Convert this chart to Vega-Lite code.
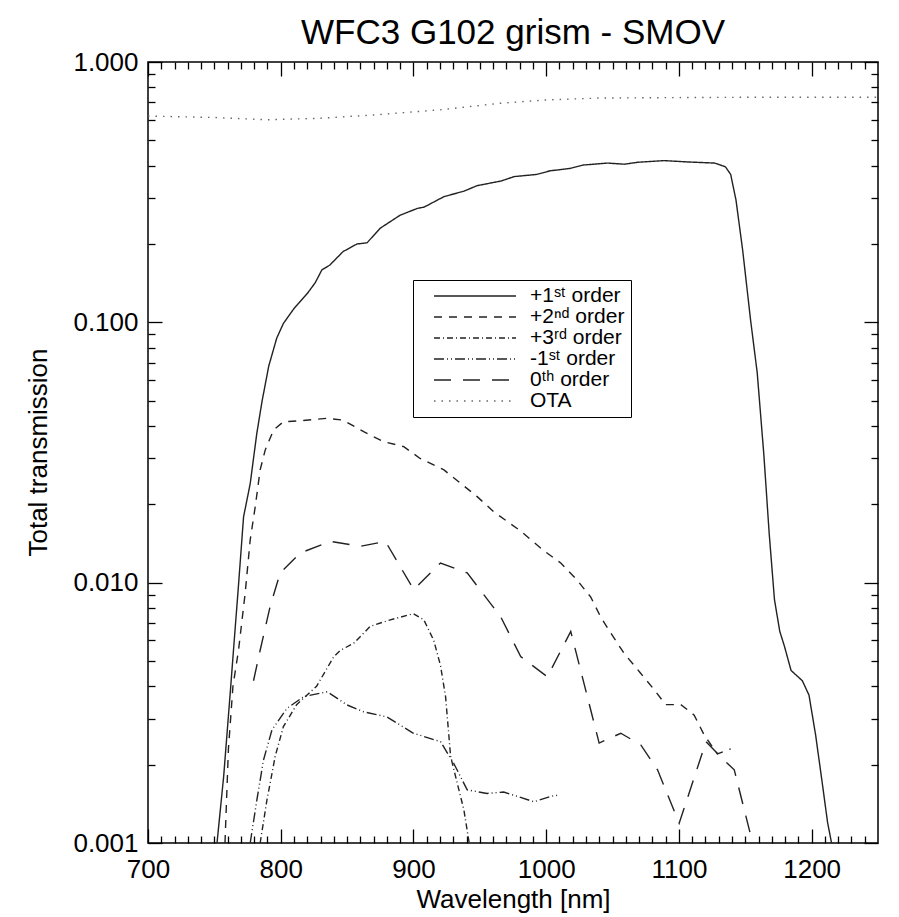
{
  "$schema": "https://vega.github.io/schema/vega-lite/v6.json",
  "autosize": {"type": "none"},
  "padding": {"left": 148, "top": 62, "right": 21, "bottom": 74},
  "width": 730,
  "height": 781,
  "background": "white",
  "title": {"text": "WFC3 G102 grism - SMOV", "fontSize": 35, "font": "Liberation Sans", "fontWeight": "normal", "color": "black", "offset": -2},
  "config": {
    "view": {"stroke": "black", "strokeWidth": 1.5},
    "axis": {"grid": false, "domain": false, "tickColor": "black", "tickWidth": 1.3, "labelFont": "Liberation Sans", "labelFontSize": 26, "labelColor": "black", "titleFont": "Liberation Sans", "titleFontSize": 26, "titleColor": "black", "titleFontWeight": "normal", "labelFlush": false, "labelOverlap": false, "labelBound": false}
  },
  "data": {"values": [
    {"s": "+1\u02e2\u1d57 order", "wl": 752, "t": 0.001},
    {"s": "+1\u02e2\u1d57 order", "wl": 757, "t": 0.0018},
    {"s": "+1\u02e2\u1d57 order", "wl": 762, "t": 0.0038},
    {"s": "+1\u02e2\u1d57 order", "wl": 764.4, "t": 0.0055},
    {"s": "+1\u02e2\u1d57 order", "wl": 768, "t": 0.0095},
    {"s": "+1\u02e2\u1d57 order", "wl": 772, "t": 0.0179},
    {"s": "+1\u02e2\u1d57 order", "wl": 777, "t": 0.024},
    {"s": "+1\u02e2\u1d57 order", "wl": 782, "t": 0.0375},
    {"s": "+1\u02e2\u1d57 order", "wl": 786, "t": 0.05},
    {"s": "+1\u02e2\u1d57 order", "wl": 791, "t": 0.068},
    {"s": "+1\u02e2\u1d57 order", "wl": 797, "t": 0.087},
    {"s": "+1\u02e2\u1d57 order", "wl": 802, "t": 0.099},
    {"s": "+1\u02e2\u1d57 order", "wl": 810, "t": 0.113},
    {"s": "+1\u02e2\u1d57 order", "wl": 820, "t": 0.129},
    {"s": "+1\u02e2\u1d57 order", "wl": 826, "t": 0.142},
    {"s": "+1\u02e2\u1d57 order", "wl": 831, "t": 0.159},
    {"s": "+1\u02e2\u1d57 order", "wl": 837, "t": 0.166},
    {"s": "+1\u02e2\u1d57 order", "wl": 847, "t": 0.187},
    {"s": "+1\u02e2\u1d57 order", "wl": 857.5, "t": 0.2},
    {"s": "+1\u02e2\u1d57 order", "wl": 865, "t": 0.202},
    {"s": "+1\u02e2\u1d57 order", "wl": 875, "t": 0.23},
    {"s": "+1\u02e2\u1d57 order", "wl": 890, "t": 0.258},
    {"s": "+1\u02e2\u1d57 order", "wl": 903, "t": 0.274},
    {"s": "+1\u02e2\u1d57 order", "wl": 908, "t": 0.277},
    {"s": "+1\u02e2\u1d57 order", "wl": 923, "t": 0.304},
    {"s": "+1\u02e2\u1d57 order", "wl": 938, "t": 0.319},
    {"s": "+1\u02e2\u1d57 order", "wl": 948, "t": 0.335},
    {"s": "+1\u02e2\u1d57 order", "wl": 966, "t": 0.349},
    {"s": "+1\u02e2\u1d57 order", "wl": 976, "t": 0.363},
    {"s": "+1\u02e2\u1d57 order", "wl": 993, "t": 0.37},
    {"s": "+1\u02e2\u1d57 order", "wl": 1003, "t": 0.382},
    {"s": "+1\u02e2\u1d57 order", "wl": 1018, "t": 0.39},
    {"s": "+1\u02e2\u1d57 order", "wl": 1028, "t": 0.402},
    {"s": "+1\u02e2\u1d57 order", "wl": 1046, "t": 0.409},
    {"s": "+1\u02e2\u1d57 order", "wl": 1059, "t": 0.405},
    {"s": "+1\u02e2\u1d57 order", "wl": 1069, "t": 0.412},
    {"s": "+1\u02e2\u1d57 order", "wl": 1089, "t": 0.418},
    {"s": "+1\u02e2\u1d57 order", "wl": 1107, "t": 0.413},
    {"s": "+1\u02e2\u1d57 order", "wl": 1127, "t": 0.409},
    {"s": "+1\u02e2\u1d57 order", "wl": 1135, "t": 0.396},
    {"s": "+1\u02e2\u1d57 order", "wl": 1139, "t": 0.37},
    {"s": "+1\u02e2\u1d57 order", "wl": 1143, "t": 0.295},
    {"s": "+1\u02e2\u1d57 order", "wl": 1148, "t": 0.19},
    {"s": "+1\u02e2\u1d57 order", "wl": 1154, "t": 0.102},
    {"s": "+1\u02e2\u1d57 order", "wl": 1159, "t": 0.064},
    {"s": "+1\u02e2\u1d57 order", "wl": 1164, "t": 0.031},
    {"s": "+1\u02e2\u1d57 order", "wl": 1168, "t": 0.0155},
    {"s": "+1\u02e2\u1d57 order", "wl": 1172, "t": 0.0086},
    {"s": "+1\u02e2\u1d57 order", "wl": 1176, "t": 0.0065},
    {"s": "+1\u02e2\u1d57 order", "wl": 1179.5, "t": 0.0057},
    {"s": "+1\u02e2\u1d57 order", "wl": 1184.5, "t": 0.0046},
    {"s": "+1\u02e2\u1d57 order", "wl": 1193, "t": 0.0042},
    {"s": "+1\u02e2\u1d57 order", "wl": 1198, "t": 0.0037},
    {"s": "+1\u02e2\u1d57 order", "wl": 1203, "t": 0.0026},
    {"s": "+1\u02e2\u1d57 order", "wl": 1208, "t": 0.0017},
    {"s": "+1\u02e2\u1d57 order", "wl": 1212, "t": 0.0012},
    {"s": "+1\u02e2\u1d57 order", "wl": 1215, "t": 0.001},

    {"s": "+2\u207f\u1d48 order", "wl": 758, "t": 0.001},
    {"s": "+2\u207f\u1d48 order", "wl": 760.6, "t": 0.0023},
    {"s": "+2\u207f\u1d48 order", "wl": 764, "t": 0.004},
    {"s": "+2\u207f\u1d48 order", "wl": 768.2, "t": 0.0055},
    {"s": "+2\u207f\u1d48 order", "wl": 773.2, "t": 0.0091},
    {"s": "+2\u207f\u1d48 order", "wl": 777, "t": 0.0146},
    {"s": "+2\u207f\u1d48 order", "wl": 780.8, "t": 0.0196},
    {"s": "+2\u207f\u1d48 order", "wl": 784.5, "t": 0.0271},
    {"s": "+2\u207f\u1d48 order", "wl": 788.3, "t": 0.0323},
    {"s": "+2\u207f\u1d48 order", "wl": 794.6, "t": 0.0386},
    {"s": "+2\u207f\u1d48 order", "wl": 802, "t": 0.0415},
    {"s": "+2\u207f\u1d48 order", "wl": 815, "t": 0.0419},
    {"s": "+2\u207f\u1d48 order", "wl": 835, "t": 0.0428},
    {"s": "+2\u207f\u1d48 order", "wl": 847, "t": 0.0421},
    {"s": "+2\u207f\u1d48 order", "wl": 862.5, "t": 0.038},
    {"s": "+2\u207f\u1d48 order", "wl": 877.6, "t": 0.0348},
    {"s": "+2\u207f\u1d48 order", "wl": 892.7, "t": 0.0333},
    {"s": "+2\u207f\u1d48 order", "wl": 905, "t": 0.03},
    {"s": "+2\u207f\u1d48 order", "wl": 923, "t": 0.0271},
    {"s": "+2\u207f\u1d48 order", "wl": 935.5, "t": 0.0241},
    {"s": "+2\u207f\u1d48 order", "wl": 948, "t": 0.0214},
    {"s": "+2\u207f\u1d48 order", "wl": 960.6, "t": 0.0187},
    {"s": "+2\u207f\u1d48 order", "wl": 980, "t": 0.0159},
    {"s": "+2\u207f\u1d48 order", "wl": 998, "t": 0.0133},
    {"s": "+2\u207f\u1d48 order", "wl": 1011, "t": 0.0119},
    {"s": "+2\u207f\u1d48 order", "wl": 1023.5, "t": 0.0102},
    {"s": "+2\u207f\u1d48 order", "wl": 1033.6, "t": 0.0088},
    {"s": "+2\u207f\u1d48 order", "wl": 1041, "t": 0.0074},
    {"s": "+2\u207f\u1d48 order", "wl": 1048.7, "t": 0.0064},
    {"s": "+2\u207f\u1d48 order", "wl": 1058.7, "t": 0.00535},
    {"s": "+2\u207f\u1d48 order", "wl": 1071, "t": 0.0045},
    {"s": "+2\u207f\u1d48 order", "wl": 1081, "t": 0.0039},
    {"s": "+2\u207f\u1d48 order", "wl": 1090, "t": 0.0034},
    {"s": "+2\u207f\u1d48 order", "wl": 1101.5, "t": 0.0034},
    {"s": "+2\u207f\u1d48 order", "wl": 1111.5, "t": 0.0031},
    {"s": "+2\u207f\u1d48 order", "wl": 1119, "t": 0.0026},
    {"s": "+2\u207f\u1d48 order", "wl": 1129, "t": 0.0022},
    {"s": "+2\u207f\u1d48 order", "wl": 1139, "t": 0.0023},

    {"s": "+3\u02b3\u1d48 order", "wl": 784.5, "t": 0.001},
    {"s": "+3\u02b3\u1d48 order", "wl": 789.6, "t": 0.00146},
    {"s": "+3\u02b3\u1d48 order", "wl": 795.8, "t": 0.00215},
    {"s": "+3\u02b3\u1d48 order", "wl": 802, "t": 0.0028},
    {"s": "+3\u02b3\u1d48 order", "wl": 812, "t": 0.0034},
    {"s": "+3\u02b3\u1d48 order", "wl": 827, "t": 0.004},
    {"s": "+3\u02b3\u1d48 order", "wl": 840, "t": 0.0052},
    {"s": "+3\u02b3\u1d48 order", "wl": 845, "t": 0.0055},
    {"s": "+3\u02b3\u1d48 order", "wl": 855, "t": 0.00585},
    {"s": "+3\u02b3\u1d48 order", "wl": 867.5, "t": 0.0068},
    {"s": "+3\u02b3\u1d48 order", "wl": 882.6, "t": 0.0072},
    {"s": "+3\u02b3\u1d48 order", "wl": 900, "t": 0.0076},
    {"s": "+3\u02b3\u1d48 order", "wl": 907.8, "t": 0.0072},
    {"s": "+3\u02b3\u1d48 order", "wl": 915.3, "t": 0.006},
    {"s": "+3\u02b3\u1d48 order", "wl": 920.4, "t": 0.0048},
    {"s": "+3\u02b3\u1d48 order", "wl": 924.2, "t": 0.00365},
    {"s": "+3\u02b3\u1d48 order", "wl": 928, "t": 0.00215},
    {"s": "+3\u02b3\u1d48 order", "wl": 938, "t": 0.00134},
    {"s": "+3\u02b3\u1d48 order", "wl": 942, "t": 0.001},

    {"s": "-1\u02e2\u1d57 order", "wl": 777, "t": 0.001},
    {"s": "-1\u02e2\u1d57 order", "wl": 782, "t": 0.00146},
    {"s": "-1\u02e2\u1d57 order", "wl": 787, "t": 0.00208},
    {"s": "-1\u02e2\u1d57 order", "wl": 793.4, "t": 0.00272},
    {"s": "-1\u02e2\u1d57 order", "wl": 804.7, "t": 0.00329},
    {"s": "-1\u02e2\u1d57 order", "wl": 817.3, "t": 0.00365},
    {"s": "-1\u02e2\u1d57 order", "wl": 835, "t": 0.00381},
    {"s": "-1\u02e2\u1d57 order", "wl": 850, "t": 0.00339},
    {"s": "-1\u02e2\u1d57 order", "wl": 862.5, "t": 0.00319},
    {"s": "-1\u02e2\u1d57 order", "wl": 880, "t": 0.00305},
    {"s": "-1\u02e2\u1d57 order", "wl": 900, "t": 0.00264},
    {"s": "-1\u02e2\u1d57 order", "wl": 920.4, "t": 0.00245},
    {"s": "-1\u02e2\u1d57 order", "wl": 930.4, "t": 0.00202},
    {"s": "-1\u02e2\u1d57 order", "wl": 940.5, "t": 0.0016},
    {"s": "-1\u02e2\u1d57 order", "wl": 955.5, "t": 0.00155},
    {"s": "-1\u02e2\u1d57 order", "wl": 968, "t": 0.00157},
    {"s": "-1\u02e2\u1d57 order", "wl": 990.8, "t": 0.00144},
    {"s": "-1\u02e2\u1d57 order", "wl": 1003.4, "t": 0.00151},
    {"s": "-1\u02e2\u1d57 order", "wl": 1010, "t": 0.00153},

    {"s": "0\u1d57\u02b0 order", "wl": 779.5, "t": 0.0042},
    {"s": "0\u1d57\u02b0 order", "wl": 784.5, "t": 0.0055},
    {"s": "0\u1d57\u02b0 order", "wl": 792, "t": 0.0081},
    {"s": "0\u1d57\u02b0 order", "wl": 799.6, "t": 0.0109},
    {"s": "0\u1d57\u02b0 order", "wl": 814.7, "t": 0.013},
    {"s": "0\u1d57\u02b0 order", "wl": 837.4, "t": 0.0144},
    {"s": "0\u1d57\u02b0 order", "wl": 860, "t": 0.0138},
    {"s": "0\u1d57\u02b0 order", "wl": 878.9, "t": 0.0144},
    {"s": "0\u1d57\u02b0 order", "wl": 900.2, "t": 0.0094},
    {"s": "0\u1d57\u02b0 order", "wl": 920.4, "t": 0.0119},
    {"s": "0\u1d57\u02b0 order", "wl": 940.5, "t": 0.0109},
    {"s": "0\u1d57\u02b0 order", "wl": 965.7, "t": 0.0074},
    {"s": "0\u1d57\u02b0 order", "wl": 980.8, "t": 0.0052},
    {"s": "0\u1d57\u02b0 order", "wl": 1000.9, "t": 0.00435},
    {"s": "0\u1d57\u02b0 order", "wl": 1018.5, "t": 0.0065},
    {"s": "0\u1d57\u02b0 order", "wl": 1039.9, "t": 0.00242},
    {"s": "0\u1d57\u02b0 order", "wl": 1056.2, "t": 0.00264},
    {"s": "0\u1d57\u02b0 order", "wl": 1071.3, "t": 0.00238},
    {"s": "0\u1d57\u02b0 order", "wl": 1083.9, "t": 0.00191},
    {"s": "0\u1d57\u02b0 order", "wl": 1100.2, "t": 0.00119},
    {"s": "0\u1d57\u02b0 order", "wl": 1120.4, "t": 0.00245},
    {"s": "0\u1d57\u02b0 order", "wl": 1134, "t": 0.00208},
    {"s": "0\u1d57\u02b0 order", "wl": 1141.7, "t": 0.00191},
    {"s": "0\u1d57\u02b0 order", "wl": 1154.3, "t": 0.00106},
    {"s": "0\u1d57\u02b0 order", "wl": 1155.5, "t": 0.001},

    {"s": "OTA", "wl": 700, "t": 0.62},
    {"s": "OTA", "wl": 750, "t": 0.612},
    {"s": "OTA", "wl": 790, "t": 0.6},
    {"s": "OTA", "wl": 830, "t": 0.608},
    {"s": "OTA", "wl": 870, "t": 0.626},
    {"s": "OTA", "wl": 920, "t": 0.655},
    {"s": "OTA", "wl": 965, "t": 0.694},
    {"s": "OTA", "wl": 1000, "t": 0.715},
    {"s": "OTA", "wl": 1040, "t": 0.727},
    {"s": "OTA", "wl": 1100, "t": 0.73},
    {"s": "OTA", "wl": 1150, "t": 0.732},
    {"s": "OTA", "wl": 1250, "t": 0.732}
  ]},
  "resolve": {"axis": {"x": "independent", "y": "independent"}},
  "layer": [
    {
      "mark": {"type": "line", "strokeWidth": 1.4, "clip": true},
      "encoding": {
        "x": {"field": "wl", "type": "quantitative", "scale": {"domain": [700, 1250], "nice": false, "zero": false},
              "axis": {"orient": "bottom", "values": [700, 800, 900, 1000, 1100, 1200], "format": "d", "tickSize": -14, "labelPadding": 27, "title": "Wavelength [nm]", "titleY": 64, "titleBaseline": "alphabetic"}},
        "y": {"field": "t", "type": "quantitative", "scale": {"type": "log", "domain": [0.001, 1], "nice": false},
              "axis": {"orient": "left", "values": [0.001, 0.01, 0.1, 1], "format": ".3f", "tickSize": -14, "labelPadding": 24, "title": "Total transmission", "titleX": -110, "titleY": 390, "titleAngle": -90, "titleAlign": "center", "titleBaseline": "middle"}},
        "color": {"field": "s", "type": "nominal",
                  "scale": {"domain": ["+1\u02e2\u1d57 order", "+2\u207f\u1d48 order", "+3\u02b3\u1d48 order", "-1\u02e2\u1d57 order", "0\u1d57\u02b0 order", "OTA"],
                            "range": ["#222222", "#222222", "#222222", "#222222", "#222222", "#666666"]},
                  "legend": {"title": null, "orient": "none", "legendX": 265, "legendY": 218, "padding": 6, "strokeColor": "black", "fillColor": "white", "symbolType": "stroke", "symbolSize": 6724, "clipHeight": 20, "symbolStrokeWidth": 1.3, "symbolOffset": 14, "labelOffset": 13, "labelFont": "Liberation Sans", "labelFontSize": 21, "labelColor": "black", "rowPadding": 0}},
        "strokeDash": {"field": "s", "type": "nominal",
                  "scale": {"domain": ["+1\u02e2\u1d57 order", "+2\u207f\u1d48 order", "+3\u02b3\u1d48 order", "-1\u02e2\u1d57 order", "0\u1d57\u02b0 order", "OTA"],
                            "range": [[1, 0], [8, 7], [6, 3, 1, 3], [10, 3, 1, 3, 1, 3], [17, 12], [1.5, 6]]},
                  "legend": {"title": null, "orient": "none", "legendX": 265, "legendY": 218, "padding": 6, "strokeColor": "black", "fillColor": "white", "symbolType": "stroke", "symbolSize": 6724, "clipHeight": 20, "symbolStrokeWidth": 1.3, "symbolOffset": 14, "labelOffset": 13, "labelFont": "Liberation Sans", "labelFontSize": 21, "labelColor": "black", "rowPadding": 0}}
      }
    },
    {
      "mark": {"type": "line", "opacity": 0, "clip": true},
      "encoding": {
        "x": {"field": "wl", "type": "quantitative", "scale": {"domain": [700, 1250], "nice": false, "zero": false},
              "axis": {"orient": "bottom", "values": [710, 720, 730, 740, 750, 760, 770, 780, 790, 810, 820, 830, 840, 850, 860, 870, 880, 890, 910, 920, 930, 940, 950, 960, 970, 980, 990, 1010, 1020, 1030, 1040, 1050, 1060, 1070, 1080, 1090, 1110, 1120, 1130, 1140, 1150, 1160, 1170, 1180, 1190, 1210, 1220, 1230, 1240], "tickSize": -7, "labels": false, "title": null}},
        "y": {"field": "t", "type": "quantitative", "scale": {"type": "log", "domain": [0.001, 1], "nice": false},
              "axis": {"orient": "left", "values": [0.002, 0.003, 0.004, 0.005, 0.006, 0.007, 0.008, 0.009, 0.02, 0.03, 0.04, 0.05, 0.06, 0.07, 0.08, 0.09, 0.2, 0.3, 0.4, 0.5, 0.6, 0.7, 0.8, 0.9], "tickSize": -7, "labels": false, "title": null}},
        "detail": {"field": "s", "type": "nominal"}
      }
    },
    {
      "mark": {"type": "line", "opacity": 0, "clip": true},
      "encoding": {
        "x": {"field": "wl", "type": "quantitative", "scale": {"domain": [700, 1250], "nice": false, "zero": false},
              "axis": {"orient": "top", "values": [700, 800, 900, 1000, 1100, 1200], "tickSize": -14, "labels": false, "title": null}},
        "y": {"field": "t", "type": "quantitative", "scale": {"type": "log", "domain": [0.001, 1], "nice": false},
              "axis": {"orient": "right", "values": [0.001, 0.01, 0.1, 1], "tickSize": -14, "labels": false, "title": null}},
        "detail": {"field": "s", "type": "nominal"}
      }
    },
    {
      "mark": {"type": "line", "opacity": 0, "clip": true},
      "encoding": {
        "x": {"field": "wl", "type": "quantitative", "scale": {"domain": [700, 1250], "nice": false, "zero": false},
              "axis": {"orient": "top", "values": [710, 720, 730, 740, 750, 760, 770, 780, 790, 810, 820, 830, 840, 850, 860, 870, 880, 890, 910, 920, 930, 940, 950, 960, 970, 980, 990, 1010, 1020, 1030, 1040, 1050, 1060, 1070, 1080, 1090, 1110, 1120, 1130, 1140, 1150, 1160, 1170, 1180, 1190, 1210, 1220, 1230, 1240], "tickSize": -7, "labels": false, "title": null}},
        "y": {"field": "t", "type": "quantitative", "scale": {"type": "log", "domain": [0.001, 1], "nice": false},
              "axis": {"orient": "right", "values": [0.002, 0.003, 0.004, 0.005, 0.006, 0.007, 0.008, 0.009, 0.02, 0.03, 0.04, 0.05, 0.06, 0.07, 0.08, 0.09, 0.2, 0.3, 0.4, 0.5, 0.6, 0.7, 0.8, 0.9], "tickSize": -7, "labels": false, "title": null}},
        "detail": {"field": "s", "type": "nominal"}
      }
    }
  ]
}
